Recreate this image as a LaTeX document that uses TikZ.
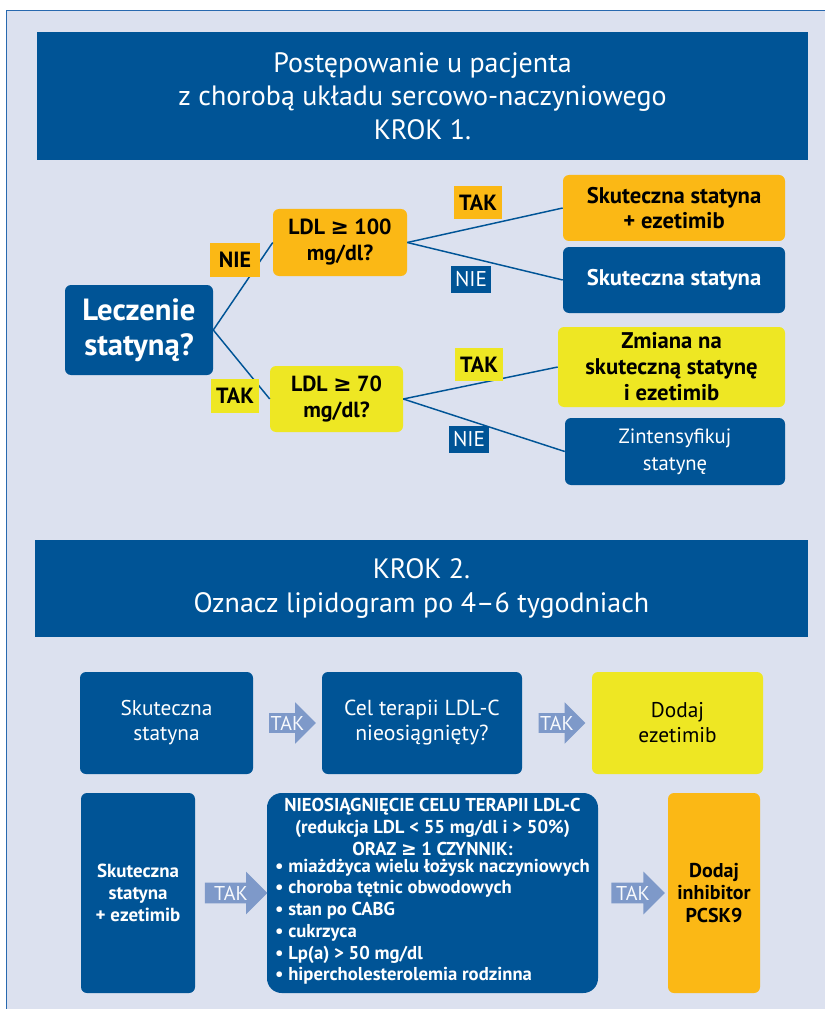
\documentclass[tikz,border=0pt]{standalone}
\usepackage{fontspec}
\setmainfont{PT Sans}
\newfontfamily\symfont{DejaVu Sans}
\newcommand\gesign{{\symfont ≥}}
\usetikzlibrary{calc,shapes.arrows}

\definecolor{navy}{RGB}{0,84,150}
\definecolor{panelbg}{RGB}{220,225,239}
\definecolor{panelline}{RGB}{40,105,175}
\definecolor{orangefill}{RGB}{251,184,21}
\definecolor{yellowfill}{RGB}{238,231,35}
\definecolor{arrowblue}{RGB}{126,153,201}

\begin{document}
\begin{tikzpicture}[x=0.75pt,y=-0.75pt,
  box/.style={rounded corners=4.5pt, inner sep=0pt, align=center},
  navybox/.style={box, fill=navy, text=white},
  orangebox/.style={box, fill=orangefill, text=black},
  yellowbox/.style={box, fill=yellowfill, text=black},
  header/.style={fill=navy, text=white, inner sep=0pt, align=center,
    font=\fontsize{21}{25}\selectfont},
  yesno/.style={inner sep=0pt, text=black, font=\fontsize{16.5}{16.5}\selectfont\bfseries},
  nietag/.style={inner sep=0pt, fill=navy, text=white, minimum width=30pt,
    minimum height=20.25pt, font=\fontsize{16}{16}\selectfont},
  link/.style={draw=navy, line width=1.1pt},
  takarrow/.style={single arrow, fill=arrowblue, text=white!94!arrowblue, inner sep=0.5pt,
    single arrow head extend=6.5pt, font=\fontsize{15}{15}\selectfont}]

\useasboundingbox (0,0) rectangle (825,1009);

% Background panel
\fill[panelbg] (6,10) rectangle (825,1009);
\draw[panelline, line width=1.4pt] (6.5,1009) -- (6.5,10.5) -- (825,10.5);

% Step 1 header
\node[header, minimum width=578.25pt, minimum height=96pt] (head1) at (422.5,96)
  {Postępowanie u pacjenta\\z chorobą układu sercowo-naczyniowego\\KROK 1.};

% Step 1 boxes
\node[navybox, minimum width=111pt, minimum height=67.5pt,
  font=\fontsize{23}{26.25}\selectfont\bfseries] (lecz) at (139,330) {Leczenie\\statyną?};
\node[orangebox, minimum width=100.5pt, minimum height=50.25pt,
  font=\fontsize{16.4}{19.5}\selectfont\bfseries] (ldlhi) at (340,242.5) {LDL \gesign{} 100\\mg/dl?};
\node[yellowbox, minimum width=99.75pt, minimum height=49.5pt,
  font=\fontsize{16.4}{19.5}\selectfont\bfseries] (ldllo) at (336.5,399) {LDL \gesign{} 70\\mg/dl?};
\node[orangebox, minimum width=166.5pt, minimum height=49.5pt,
  font=\fontsize{17}{19}\selectfont\bfseries] (ezet) at (674,208) {Skuteczna statyna\\+ ezetimib};
\node[navybox, minimum width=166.5pt, minimum height=49.5pt,
  font=\fontsize{17}{19}\selectfont\bfseries] (skut) at (674,280) {Skuteczna statyna};
\node[yellowbox, minimum width=170.25pt, minimum height=60pt,
  font=\fontsize{17}{19.5}\selectfont\bfseries] (zmiana) at (671.5,367)
  {Zmiana na\\skuteczną statynę\\i ezetimib};
\node[navybox, minimum width=165pt, minimum height=50.25pt,
  font=\fontsize{15.5}{20.25}\selectfont] (zint) at (675,451.5) {Zintensyfikuj\\statynę};

% Step 1 connectors
\draw[link] (lecz.east) -- (ldlhi.west);
\draw[link] (lecz.east) -- (ldllo.west);
\draw[link] (ldlhi.east) -- (ezet.west);
\draw[link] (ldlhi.east) -- (skut.west);
\draw[link] (ldllo.east) -- (zmiana.west);
\draw[link] (ldllo.east) -- (zint.west);

% Yes / no tags
\node[yesno, fill=orangefill, minimum width=37.5pt, minimum height=25.5pt] (nie1) at (235,260) {NIE};
\node[yesno, fill=yellowfill, minimum width=36pt, minimum height=25.5pt] (tak1) at (235,396) {TAK};
\node[yesno, fill=orangefill, minimum width=36pt, minimum height=24.75pt] (tak2) at (478,202.5) {TAK};
\node[nietag] (nie2) at (471,279.5) {NIE};
\node[yesno, fill=yellowfill, minimum width=36pt, minimum height=24.75pt] (tak3) at (479,364.5) {TAK};
\node[nietag] (nie3) at (469,439.5) {NIE};

% Step 2 header
\node[header, minimum width=579.75pt, minimum height=72.75pt] (head2) at (421.5,588.5)
  {KROK 2.\\Oznacz lipidogram po 4–6 tygodniach};

% Step 2, first row
\node[navybox, minimum width=129.75pt, minimum height=76.5pt,
  font=\fontsize{16}{18.75}\selectfont] (statyna) at (166.5,723) {Skuteczna\\statyna};
\node[navybox, minimum width=150pt, minimum height=76.5pt,
  font=\fontsize{16.3}{18.75}\selectfont] (cel) at (422,723) {Cel terapii LDL-C\\nieosiągnięty?};
\node[yellowbox, minimum width=128.25pt, minimum height=76.5pt,
  font=\fontsize{16}{18.75}\selectfont] (dodajez) at (677.5,723) {Dodaj\\ezetimib};

% Step 2, second row
\node[navybox, minimum width=85.5pt, minimum height=150pt,
  font=\fontsize{14.2}{16.5}\selectfont\bfseries] (statez) at (138,893) {Skuteczna\\statyna\\+ ezetimib};
\node[navybox, rounded corners=11pt, minimum width=248.25pt, minimum height=150pt,
  font=\fontsize{14}{16.3}\selectfont\bfseries] (kryteria) at (432.5,893)
  {NIEOSIĄGNIĘCIE CELU TERAPII LDL-C\\(redukcja LDL < 55 mg/dl i > 50\%)\\ORAZ \gesign{} 1 CZYNNIK:\\
   \begin{tabular}{@{}l@{}}
   • miażdżyca wielu łożysk naczyniowych\\
   • choroba tętnic obwodowych\\
   • stan po CABG\\
   • cukrzyca\\
   • Lp(a) > 50 mg/dl\\
   • hipercholesterolemia rodzinna
   \end{tabular}};
\node[orangebox, minimum width=69pt, minimum height=150pt,
  font=\fontsize{15}{16.9}\selectfont\bfseries] (pcsk) at (714,893) {Dodaj\\inhibitor\\PCSK9};

% TAK arrows
\node[takarrow, minimum height=35pt, minimum width=31pt]
  (arr1) at ($(statyna.east)!0.5!(cel.west)$) {TAK};
\node[takarrow, minimum height=35pt, minimum width=31pt]
  (arr2) at ($(cel.east)!0.5!(dodajez.west)$) {TAK};
\node[takarrow, minimum height=47pt, minimum width=32pt]
  (arr3) at ($(statez.east)!0.5!(kryteria.west)$) {TAK};
\node[takarrow, minimum height=40pt, minimum width=32pt]
  (arr4) at ($(kryteria.east)!0.5!(pcsk.west)$) {TAK};

\end{tikzpicture}
\end{document}
